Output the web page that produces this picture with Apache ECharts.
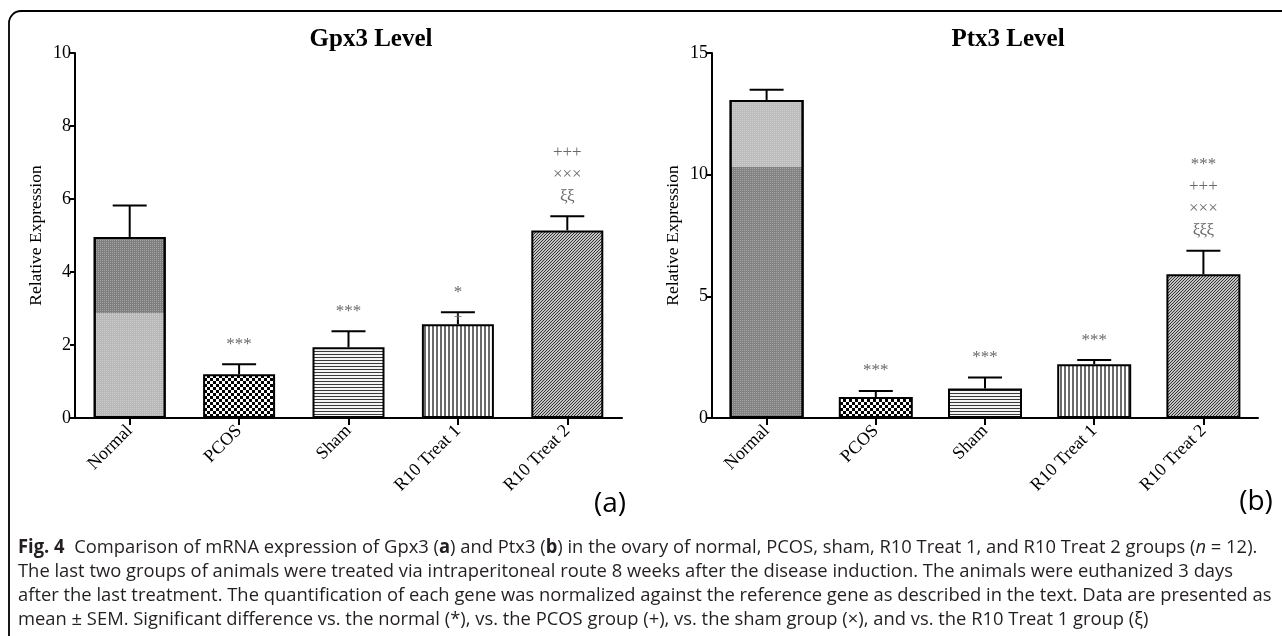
<!DOCTYPE html>
<html lang="en">
<head>
    <meta charset="UTF-8">
    <title>Gpx3 / Ptx3 Level</title>
    <script src="https://cdn.jsdelivr.net/npm/echarts@6/dist/echarts.min.js"></script>
    <style>
        html, body { margin: 0; padding: 0; background: #fff; }
    </style>
</head>
<body>
    <div id="chart" style="width: 1282px; height: 636px;"></div>
    <script>
        // data
        const groups = ['Normal', 'PCOS', 'Sham', 'R10 Treat 1', 'R10 Treat 2'];
        const gpxMean = [4.96, 1.20, 1.94, 2.57, 5.14];
        const gpxSem = [0.86, 0.27, 0.44, 0.33, 0.39];
        const gpxMarks = ['', '***', '***', '*', '+++\n×××\nξξ'];
        const gpxCapMarks = ['', '', '', '+', ''];
        const gpxTicks = [0, 2, 4, 6, 8, 10];

        const ptxMean = [13.07, 0.86, 1.21, 2.21, 5.91];
        const ptxSem = [0.42, 0.25, 0.45, 0.17, 0.96];
        const ptxMarks = ['', '***', '***', '***', '***\n+++\n×××\nξξξ'];
        const ptxCapMarks = ['', '', '', '', ''];
        const ptxTicks = [0, 5, 10, 15];

        const SERIF = '"Liberation Serif", "Times New Roman", serif';

        // small tiles for the hatch fills
        function tile(w, h, draw) {
            const c = document.createElement('canvas');
            c.width = w; c.height = h;
            const g = c.getContext('2d');
            draw(g);
            return { image: c, repeat: 'repeat' };
        }
        const checker = tile(6, 6, g => {
            g.fillStyle = '#fff'; g.fillRect(0, 0, 6, 6);
            g.fillStyle = '#000'; g.fillRect(0, 0, 3, 3); g.fillRect(3, 3, 3, 3);
        });
        const hLines = tile(3, 3, g => {
            g.fillStyle = '#f4f4f4'; g.fillRect(0, 0, 3, 3);
            g.fillStyle = '#3a3a3a'; g.fillRect(0, 0, 3, 1);
        });
        const vLines = tile(4, 4, g => {
            g.fillStyle = '#fff'; g.fillRect(0, 0, 4, 4);
            g.fillStyle = '#6a6a6a'; g.fillRect(0, 0, 2, 4);
        });
        const diag = tile(3, 3, g => {
            g.fillStyle = '#c4c4c4'; g.fillRect(0, 0, 3, 3);
            g.fillStyle = '#333'; g.fillRect(2, 0, 1, 1); g.fillRect(1, 1, 1, 1); g.fillRect(0, 2, 1, 1);
        });
        const dots = {
            symbol: 'rect', symbolSize: 1,
            dashArrayX: [1, 1], dashArrayY: [1, 1],
            color: 'rgba(255,255,255,0.3)'
        };
        function twoTone(split, topCol, botCol) {
            return {
                type: 'linear', x: 0, y: 0, x2: 0, y2: 1,
                colorStops: [
                    { offset: 0, color: topCol }, { offset: split, color: topCol },
                    { offset: split, color: botCol }, { offset: 1, color: botCol }
                ]
            };
        }

        function barData(means, normalFill) {
            const fills = [normalFill, checker, hLines, vLines, diag];
            return means.map((v, i) => ({
                value: v,
                itemStyle: {
                    color: fills[i],
                    borderColor: '#000', borderWidth: 2,
                    decal: i === 0 ? dots : undefined
                }
            }));
        }

        function errSeries(idx, means, sems, marks, capMarks) {
            return {
                type: 'custom',
                xAxisIndex: idx, yAxisIndex: idx,
                z: 5,
                data: means.map((m, i) => [i, m, sems[i]]),
                encode: { x: 0, y: 1 },
                renderItem(params, api) {
                    const i = api.value(0), m = api.value(1), e = api.value(2);
                    const base = api.coord([i, m]);
                    const top = api.coord([i, m + e]);
                    const ln = { stroke: '#000', lineWidth: 2 };
                    return {
                        type: 'group',
                        children: [
                            { type: 'line', shape: { x1: base[0], y1: base[1], x2: top[0], y2: top[1] }, style: ln },
                            { type: 'line', shape: { x1: top[0] - 17, y1: top[1], x2: top[0] + 17, y2: top[1] }, style: ln },
                            {
                                type: 'text',
                                style: {
                                    text: marks[i], x: top[0], y: top[1] - 9,
                                    align: 'center', verticalAlign: 'bottom',
                                    fill: '#6a6a6a', font: '17px ' + SERIF, lineHeight: 22
                                }
                            },
                            {
                                type: 'text',
                                style: {
                                    text: capMarks[i], x: top[0], y: top[1] + 5,
                                    align: 'center', verticalAlign: 'middle',
                                    fill: '#6a6a6a', font: '15px ' + SERIF
                                }
                            }
                        ]
                    };
                }
            };
        }

        const axisLine = { show: true, lineStyle: { color: '#000', width: 2 } };

        function xAxis(idx) {
            return {
                type: 'category', gridIndex: idx, data: groups,
                axisLine: axisLine,
                axisTick: { show: true, alignWithLabel: true, length: 7, lineStyle: { color: '#000', width: 2 } },
                axisLabel: { rotate: 45, margin: 10, color: '#000', fontSize: 18, fontFamily: SERIF },
                splitLine: { show: false }
            };
        }
        function yAxis(idx, max, interval) {
            return {
                type: 'value', gridIndex: idx, min: 0, max: max, interval: interval,
                name: 'Relative Expression', nameLocation: 'middle', nameGap: 30, nameRotate: 90,
                nameTextStyle: { color: '#000', fontSize: 17.5, fontFamily: SERIF },
                axisLine: axisLine,
                axisTick: { show: true, length: 5, lineStyle: { color: '#000', width: 2 } },
                axisLabel: { color: '#000', fontSize: 18, fontFamily: SERIF, margin: 4 },
                splitLine: { show: false }
            };
        }

        const CAP_FONT = '"Open Sans", sans-serif';
        const rich = {
            b: { fontWeight: 'bold', fontSize: 19, fontFamily: CAP_FONT, fill: '#231f20' },
            i: { fontStyle: 'italic', fontSize: 19, fontFamily: CAP_FONT, fill: '#231f20' }
        };
        const captionLines = [
            '{b|Fig. 4}  Comparison of mRNA expression of Gpx3 ({b|a}) and Ptx3 ({b|b}) in the ovary of normal, PCOS, sham, R10 Treat 1, and R10 Treat 2 groups ({i|n} = 12).',
            'The last two groups of animals were treated via intraperitoneal route 8 weeks after the disease induction. The animals were euthanized 3 days',
            'after the last treatment. The quantification of each gene was normalized against the reference gene as described in the text. Data are presented as',
            'mean ± SEM. Significant difference vs. the normal (*), vs. the PCOS group (+), vs. the sham group (×), and vs. the R10 Treat 1 group (ξ)'
        ];

        const chart = echarts.init(document.getElementById('chart'));
        chart.setOption({
            animation: false,
            title: [
                { text: 'Gpx3 Level', left: 366, top: 22, textAlign: 'center',
                  textStyle: { fontFamily: SERIF, fontWeight: 'bold', fontSize: 25, color: '#000' } },
                { text: 'Ptx3 Level', left: 1003, top: 22, textAlign: 'center',
                  textStyle: { fontFamily: SERIF, fontWeight: 'bold', fontSize: 25, color: '#000' } }
            ],
            grid: [
                { left: 75, top: 53, width: 547, height: 365 },
                { left: 712, top: 53, width: 546, height: 365 }
            ],
            xAxis: [xAxis(0), xAxis(1)],
            yAxis: [yAxis(0, gpxTicks[gpxTicks.length - 1], gpxTicks[1]), yAxis(1, ptxTicks[ptxTicks.length - 1], ptxTicks[1])],
            series: [
                { type: 'bar', xAxisIndex: 0, yAxisIndex: 0, barWidth: 72,
                  data: barData(gpxMean, twoTone(0.42, '#7e7e7e', '#b8b8b8')) },
                { type: 'bar', xAxisIndex: 1, yAxisIndex: 1, barWidth: 74,
                  data: barData(ptxMean, twoTone(0.21, '#bcbcbc', '#828282')) },
                errSeries(0, gpxMean, gpxSem, gpxMarks, gpxCapMarks),
                errSeries(1, ptxMean, ptxSem, ptxMarks, ptxCapMarks)
            ],
            graphic: [
                { type: 'rect', shape: { x: 9, y: 11, width: 1400, height: 800, r: 12 },
                  style: { fill: null, stroke: '#000', lineWidth: 1.8 }, silent: true },
                { type: 'text', x: 610, y: 504,
                  style: { text: '(a)', font: '28px "Open Sans", sans-serif', fill: '#000', align: 'center', verticalAlign: 'middle' } },
                { type: 'text', x: 1256, y: 502,
                  style: { text: '(b)', font: '28px "Open Sans", sans-serif', fill: '#000', align: 'center', verticalAlign: 'middle' } }
            ].concat(captionLines.map((t, k) => ({
                type: 'text', x: 18, y: 548 + k * 24, scaleX: 0.967,
                style: { text: t, rich: rich, verticalAlign: 'middle', fontSize: 19, fontFamily: CAP_FONT, fill: '#231f20' }
            })))
        });
    </script>
</body>
</html>
